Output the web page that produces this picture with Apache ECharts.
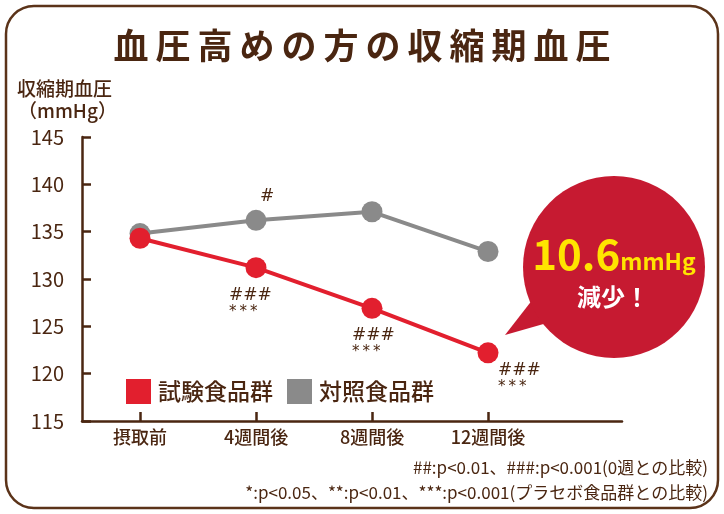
<!DOCTYPE html>
<html>
<head>
<meta charset="utf-8">
<script src="https://cdn.jsdelivr.net/npm/echarts@6/dist/echarts.min.js"></script>
<style>
  html, body { margin: 0; padding: 0; background: #fff; }
  #chart { width: 724px; height: 514px; }
</style>
</head>
<body>
<div id="chart"></div>
<script>
// data
const categories = ['摂取前', '4週間後', '8週間後', '12週間後']
const testValues = [134.3, 131.2, 126.9, 122.2]
const controlValues = [134.8, 136.2, 137.1, 132.9]
const testSigBase = ['', '###', '###', '###']
const testSigPlacebo = ['', '***', '***', '***']
const controlSigBase = ['', '#', '', '']
const yTicks = [115, 120, 125, 130, 135, 140, 145]

const BROWN = '#4a2611'
const FONT = '"Noto Sans CJK JP", "Noto Sans", sans-serif'
const sigOffsets = [[0, 0], [-27, 2], [-20, 2], [10, -8]]

const chart = echarts.init(document.getElementById('chart'))

const spaced = (s) => s.split('').join('\u2009')

const sigLabel = (i) => ({
  show: !!testSigBase[i],
  position: 'bottom',
  distance: 5,
  align: 'left',
  offset: sigOffsets[i],
  formatter: '{h|' + testSigBase[i] + '}\n{s|' + spaced(testSigPlacebo[i]) + '}',
  rich: {
    h: { fontSize: 17, lineHeight: 20, color: BROWN, fontFamily: 'DejaVu Sans', fontWeight: 'normal' },
    s: { fontSize: 15, lineHeight: 13, color: BROWN, fontFamily: 'DejaVu Sans' },
  },
})

const option = {
  animation: false,
  backgroundColor: '#fff',
  textStyle: { fontFamily: FONT },
  title: {
    text: spaced('血圧高めの方の収縮期血圧'),
    left: 'center',
    top: 23,
    textStyle: { fontSize: 35, fontWeight: 'bold', color: BROWN, fontFamily: FONT },
  },
  legend: {
    left: 121,
    top: 374,
    icon: 'rect',
    itemWidth: 25,
    itemHeight: 25,
    itemGap: 14,
    textStyle: { fontSize: 23, color: BROWN, fontWeight: 500, padding: [0, 0, 0, 2] },
    data: ['試験食品群', '対照食品群'],
  },
  grid: { left: 82, right: 102, top: 137, bottom: 93 },
  xAxis: {
    type: 'value',
    min: -0.5,
    max: 4.155,
    splitLine: { show: false },
    axisLine: { show: true, onZero: false, lineStyle: { color: BROWN, width: 2.5 } },
    axisTick: { show: true, inside: true, length: 9, customValues: [0, 1, 2, 3], lineStyle: { color: BROWN, width: 2.5 } },
    axisLabel: {
      customValues: [0, 1, 2, 3],
      formatter: (v) => categories[Math.round(v)] || '',
      fontSize: 18, color: BROWN, margin: 7, fontWeight: 500,
    },
  },
  yAxis: {
    type: 'value',
    min: yTicks[0],
    max: yTicks[yTicks.length - 1],
    interval: 5,
    splitLine: { show: false },
    axisLine: { show: true, onZero: false, lineStyle: { color: BROWN, width: 2.5 } },
    axisTick: { show: true, inside: true, length: 9, lineStyle: { color: BROWN, width: 2.5 } },
    axisLabel: { fontSize: 20, color: BROWN, margin: 18, fontFamily: FONT },
  },
  series: [
    {
      name: '対照食品群',
      type: 'line',
      color: '#8a8a8a',
      z: 2,
      symbol: 'circle',
      symbolSize: 21,
      lineStyle: { width: 4, color: '#8a8a8a' },
      itemStyle: { color: '#8a8a8a' },
      data: controlValues.map((v, i) => ({
        value: [i, v],
        label: {
          show: !!controlSigBase[i],
          position: 'top',
          distance: 5,
          offset: [11, 0],
          formatter: controlSigBase[i],
          fontSize: 17, color: BROWN, fontFamily: 'DejaVu Sans',
        },
      })),
    },
    {
      name: '試験食品群',
      type: 'line',
      color: '#e21f2e',
      z: 3,
      symbol: 'circle',
      symbolSize: 21,
      lineStyle: { width: 4, color: '#e21f2e' },
      itemStyle: { color: '#e21f2e' },
      data: testValues.map((v, i) => ({ value: [i, v], label: sigLabel(i) })),
    },
  ],
  graphic: [
    {
      type: 'rect', z: -10, silent: true,
      shape: { x: 6, y: 6, width: 712, height: 502, r: 28 },
      style: { fill: '#fff', stroke: '#5b3319', lineWidth: 2.5 },
    },
    {
      type: 'text', left: 17, top: 79,
      style: { text: '収縮期血圧', fontSize: 19, fill: BROWN, fontFamily: FONT, fontWeight: 500 },
    },
    {
      type: 'text', left: 18, top: 101,
      style: { text: '（mmHg）', fontSize: 19, fill: BROWN, fontFamily: FONT, fontWeight: 500 },
    },
    {
      type: 'group', z: 20,
      children: [
        {
          type: 'polygon',
          shape: { points: [[505, 335], [540, 290], [575, 315]] },
          style: { fill: '#c61a31' },
        },
        {
          type: 'circle',
          shape: { cx: 614, cy: 267, r: 91 },
          style: { fill: '#c61a31' },
        },
        {
          type: 'text', x: 614, y: 254,
          style: {
            text: '{a|10.6}{b|mmHg}',
            align: 'center', verticalAlign: 'middle',
            rich: {
              a: { fontSize: 42, fontWeight: 'bold', fill: '#ffe400', fontFamily: FONT, verticalAlign: 'bottom' },
              b: { fontSize: 23, fontWeight: 'bold', fill: '#ffe400', fontFamily: FONT, verticalAlign: 'bottom', padding: [0, 0, 2, 0] },
            },
          },
        },
        {
          type: 'text', x: 613, y: 297,
          style: {
            text: '減少！', align: 'center', verticalAlign: 'middle',
            fontSize: 24, fontWeight: 'bold', fill: '#fff', fontFamily: FONT,
          },
        },
      ],
    },
    {
      type: 'text', right: 16, top: 459,
      style: { text: '##:p<0.01、###:p<0.001(0週との比較)', fontSize: 17, fill: BROWN, fontFamily: FONT },
    },
    {
      type: 'text', right: 16, top: 484,
      style: { text: '*:p<0.05、**:p<0.01、***:p<0.001(プラセボ食品群との比較)', fontSize: 17, fill: BROWN, fontFamily: FONT },
    },
  ],
}

chart.setOption(option)
</script>
</body>
</html>
